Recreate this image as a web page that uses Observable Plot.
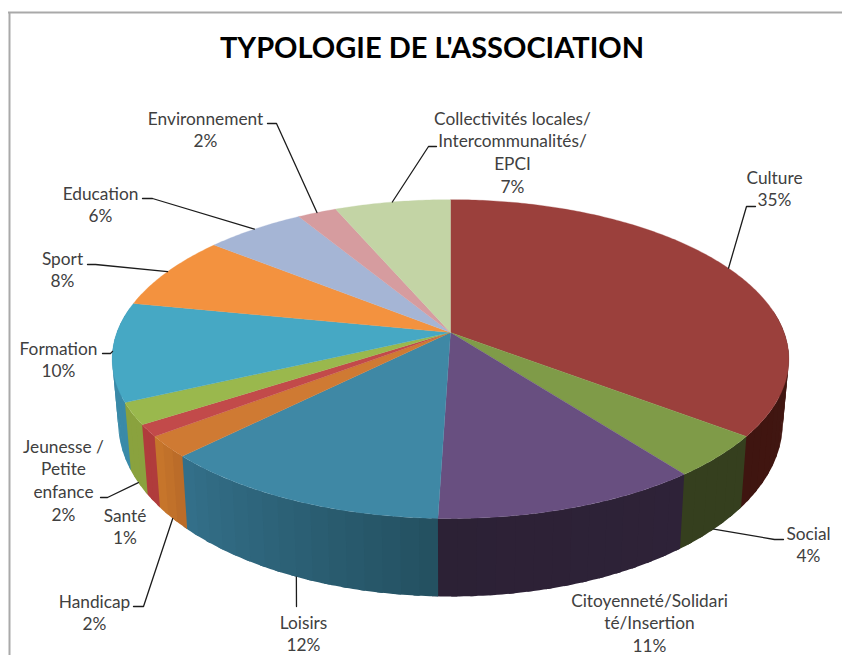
<!DOCTYPE html>
<html><head><meta charset="utf-8">
<style>html,body{margin:0;padding:0;background:#fff}</style>
<script src="https://cdn.jsdelivr.net/npm/d3@7"></script>
<script src="https://cdn.jsdelivr.net/npm/@observablehq/plot@0.6"></script>
</head><body><script>
// data, clockwise from twelve o'clock
const categories = ["Culture","Social","Citoyenneté/Solidarité/Insertion","Loisirs","Handicap","Santé","Jeunesse / Petite enfance","Formation","Sport","Education","Environnement","Collectivités locales/Intercommunalités/EPCI"];
const values = [35.3,4.3,10.9,12.05,2.15,1.2,2.2,10.0,7.6,5.6,2.2,6.5];
const labels = ["Culture\n35%","Social\n4%","Citoyenneté/Solidari\nté/Insertion\n11%","Loisirs\n12%","Handicap\n2%","Santé\n1%","Jeunesse /\nPetite\nenfance\n2%","Formation\n10%","Sport\n8%","Education\n6%","Environnement\n2%","Collectivités locales/\nIntercommunalités/\nEPCI\n7%"];
const topColors = ["#9b403c","#7f9b48","#684f80","#3f88a5","#cf7a33","#c24a4a","#9ab84d","#46a8c4","#f3923f","#a5b5d5","#d69c9f","#c3d4a5"];
const wallStart = ["#4a1a15","#353f1e","#2e2238","#245060","#b86a28","#b03c3c","#8aa23e","#3a8aa8","#c87a30","#8494ae","#ad7d80","#9eac84"];
const wallEnd   = ["#3f1510","#353f1e","#2c2135","#33708a","#c9772b","#b03c3c","#8aa23e","#3a8aa8","#c87a30","#8494ae","#ad7d80","#9eac84"];

// layout
const labelX = [774,808,649,303,94,124.5,63,58,62,100,205,512];
const labelY = [177,533,600,622,601,515,446,348,258,193,118,118];
const leaderEnd   = [[755,206],[783,539],null,[296,606],[133,606],null,[100,497],[102,353],[87,264],[142,198],[267,123],[436,146]];
const leaderElbow = [[746,206],[774,539],null,[296,606],[143,606],null,[107,497],[110,353],[95,264],[152,198],[276,123],[428,146]];
const leaderFront = [false,true,false,true,true,false,true,false,false,false,false,false];

// projection of the disc
const cx = 450, cy = 332, R = 333.6, H = 155, K = 6, shrink = 0.982;
const project = (pct, lower) => {
  const a = pct / 100 * 2 * Math.PI, u = Math.sin(a), v = -Math.cos(a), f = K / (K - v);
  const s = lower ? shrink : 1, d = lower ? 60.5 + 17.5 * v : 0;
  return {x: cx + R * u * f * s, y: cy + H * v * f + d, v};
};
const cum = d3.cumsum(values);
const startOf = i => i ? cum[i - 1] : 0;
const range = (a, b, step) => { const n = Math.max(1, Math.ceil((b - a) / step)); return d3.range(n + 1).map(j => a + (b - a) * j / n); };

const tops = [], walls = [], leaders = [];
categories.forEach((c, i) => {
  const a = startOf(i), b = cum[i];
  tops.push({id: c, x: cx, y: cy, color: topColors[i]});
  for (const p of range(a, b, 0.2)) { const q = project(p, false); tops.push({id: c, x: q.x, y: q.y, color: topColors[i]}); }
  tops.push({id: c, x: cx, y: cy, color: topColors[i]});
  const strips = range(a, b, 0.8), mix = d3.interpolateRgb(wallStart[i], wallEnd[i]);
  for (let j = 0; j < strips.length - 1; j++) {
    const p0 = strips[j], p1 = strips[j + 1] + 0.25;
    if (project(p0).v < -0.1 && project(p1).v < -0.1) continue;
    const color = d3.rgb(mix((j + 0.5) / (strips.length - 1))).formatHex(), id = c + j;
    const up = range(p0, p1, 0.2);
    for (const p of up) { const q = project(p, false); walls.push({id, x: q.x, y: q.y, color}); }
    for (const p of up.slice().reverse()) { const q = project(p, true); walls.push({id, x: q.x, y: q.y, color}); }
    const q = project(p0, false); walls.push({id, x: q.x, y: q.y, color});
  }
  if (leaderEnd[i]) {
    const q = project((a + b) / 2, leaderFront[i]);
    for (const [x, y] of [[q.x, q.y], leaderElbow[i], leaderEnd[i]]) leaders.push({id: c, x, y});
  }
});
const texts = labels.map((text, i) => ({text, x: labelX[i], y: labelY[i]}));

const font = "Lato", fs = 17.3, lead = 22.7;
document.body.append(Plot.plot({
  width: 842, height: 655, margin: 0,
  x: {domain: [0, 842], range: [0, 842], axis: null},
  y: {domain: [0, 655], range: [0, 655], axis: null},
  color: {type: "identity"},
  marks: [
    Plot.ruleY([12], {x1: 8, x2: 842, stroke: "#a9a9a9", strokeWidth: 2}),
    Plot.ruleX([9], {y1: 12, y2: 655, stroke: "#a9a9a9", strokeWidth: 2}),
    Plot.line(walls, {x: "x", y: "y", z: "id", fill: "color", curve: "linear"}),
    Plot.line(tops, {x: "x", y: "y", z: "id", fill: "color", stroke: "color", strokeWidth: 0.3, curve: "linear"}),
    Plot.line(leaders, {x: "x", y: "y", z: "id", stroke: "#1c1c1c", strokeWidth: 1.3, curve: "linear"}),
    Plot.text(texts, {x: "x", y: "y", text: "text", fontFamily: font, fontSize: fs, fill: "#404040", textAnchor: "middle", lineAnchor: "top", lineHeight: lead / fs, dy: 6 - 0.71 * lead}),
    Plot.text(["TYPOLOGIE DE L'ASSOCIATION"], {x: () => 431.5, y: () => 48, text: d => d, fontFamily: font, fontWeight: 700, fontSize: 29, fill: "#000", textAnchor: "middle"})
  ]
}));
</script></body></html>
